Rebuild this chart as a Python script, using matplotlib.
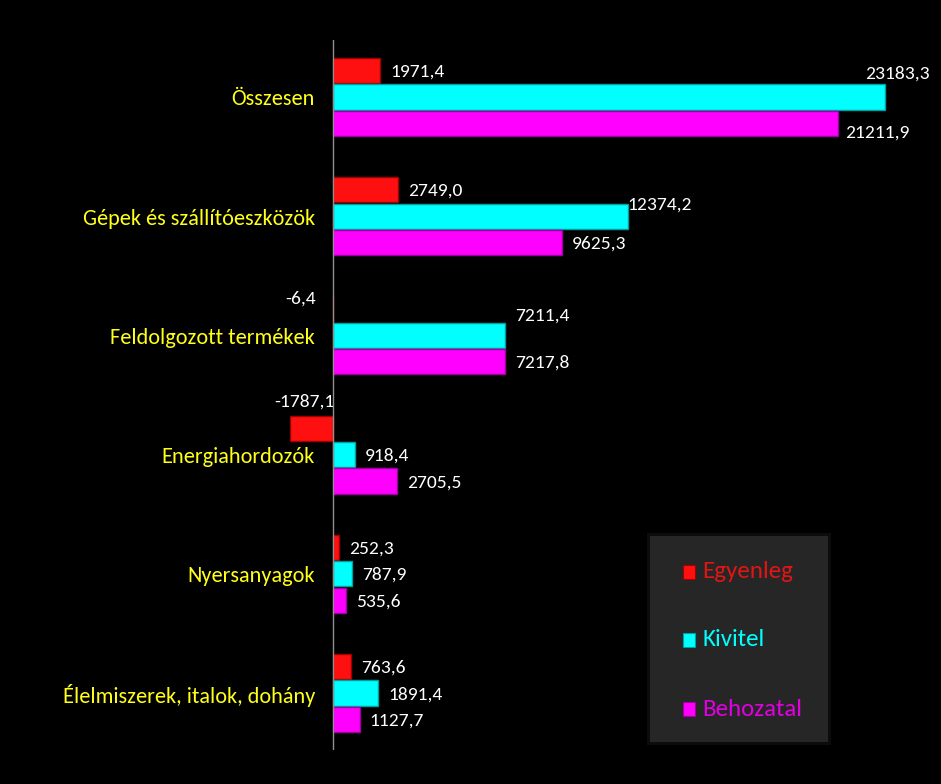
import matplotlib
matplotlib.use("Agg")
import matplotlib.pyplot as plt
from matplotlib.patches import Rectangle
from matplotlib import font_manager
import numpy as np

categories = ["Összesen", "Gépek és szállítóeszközök", "Feldolgozott termékek",
              "Energiahordozók", "Nyersanyagok", "Élelmiszerek, italok, dohány"]
series_names = ["Egyenleg", "Kivitel", "Behozatal"]
egyenleg = [1971.4, 2749.0, -6.4, -1787.1, 252.3, 763.6]
kivitel = [23183.3, 12374.2, 7211.4, 918.4, 787.9, 1891.4]
behozatal = [21211.9, 9625.3, 7217.8, 2705.5, 535.6, 1127.7]
colors = ["#FF1010", "#00FFFF", "#FF00FF"]
edges = ["#A00000", "#00A0A0", "#A000A0"]

W, H = 941, 784
fig = plt.figure(figsize=(W / 100, H / 100), dpi=100, facecolor="black")
xmin, xmax = -1800, 25000
px_per_unit = 0.02381
left_px = 333 + xmin * px_per_unit
right_px = 333 + xmax * px_per_unit
top_px, bot_px = 40, 750
ax = fig.add_axes([left_px / W, 1 - bot_px / H, (right_px - left_px) / W, (bot_px - top_px) / H])
ax.set_facecolor("black")
ax.set_xlim(xmin, xmax)
ax.set_ylim(5.478, -0.478)

def fmt(v):
    return f"{v:.1f}".replace(".", ",")

installed = {f.name for f in font_manager.fontManager.ttflist}
font = [f for f in ["Carlito", "Liberation Sans Narrow", "Lato", "DejaVu Sans"] if f in installed]

y = np.arange(len(categories))
step = 0.222
bh = 0.212
all_series = [egyenleg, kivitel, behozatal]
# label placement tweaks: (series, category) -> (dx units, dy units, ha)
special = {
    (1, 0): (1900, -0.2, "right"),
    (1, 1): (0, -0.1, "left"),
    (1, 2): (420, -0.17, "left"),
    (2, 0): (300, 0.08, "left"),
    (0, 2): (-714, -0.09, "right"),
    (0, 3): (80, -0.22, "right"),
}
vfs = 14
for s, vals in enumerate(all_series):
    pos = y + (s - 1) * step
    ax.barh(pos, vals, height=bh, color=colors[s], edgecolor=edges[s], linewidth=1.0, zorder=3)
    for i, v in enumerate(vals):
        txt = fmt(v)
        if (s, i) in special:
            dx, dy, ha = special[(s, i)]
            x0 = v if v > 0 else 0
            ax.text(x0 + dx, pos[i] + dy, txt, ha=ha, va="center", color="white",
                    fontsize=vfs, family=font, clip_on=False)
        else:
            ax.text(v + 420, pos[i] + 0.01, txt, ha="left", va="center", color="white",
                    fontsize=vfs, family=font, clip_on=False)

ax.set_yticks([])
ax.set_xticks([])
for sp in ax.spines.values():
    sp.set_visible(False)
ax.axvline(0, color="#909090", linewidth=1.0, zorder=4)

for i, c in enumerate(categories):
    ax.text(-760, y[i] + 0.02, c, ha="right", va="center", color="#FFFF1A",
            fontsize=16, family=font, clip_on=False)

# legend panel
lx0, ly0, lx1, ly1 = 650, 536, 828, 742
fig.patches.append(Rectangle(((lx0 - 3) / W, 1 - (ly1 + 3) / H), (lx1 - lx0 + 6) / W, (ly1 - ly0 + 6) / H,
                             transform=fig.transFigure, facecolor="#0c0c0c", edgecolor="none"))
fig.patches.append(Rectangle((lx0 / W, 1 - ly1 / H), (lx1 - lx0) / W, (ly1 - ly0) / H,
                             transform=fig.transFigure, facecolor="#262626", edgecolor="none"))
leg_y = [572, 640, 709]
leg_text_colors = ["#E01515", "#00FFFF", "#E000E0"]
for s, name in enumerate(series_names):
    yy = leg_y[s]
    fig.patches.append(Rectangle((683 / W, 1 - (yy + 7) / H), 12 / W, 14 / H,
                                 transform=fig.transFigure, facecolor=colors[s],
                                 edgecolor=edges[s], linewidth=0.8))
    fig.text(702 / W, 1 - yy / H, name, ha="left", va="center", color=leg_text_colors[s],
             fontsize=18, family=font)

fig.savefig("out.png", dpi=100, facecolor="black")
